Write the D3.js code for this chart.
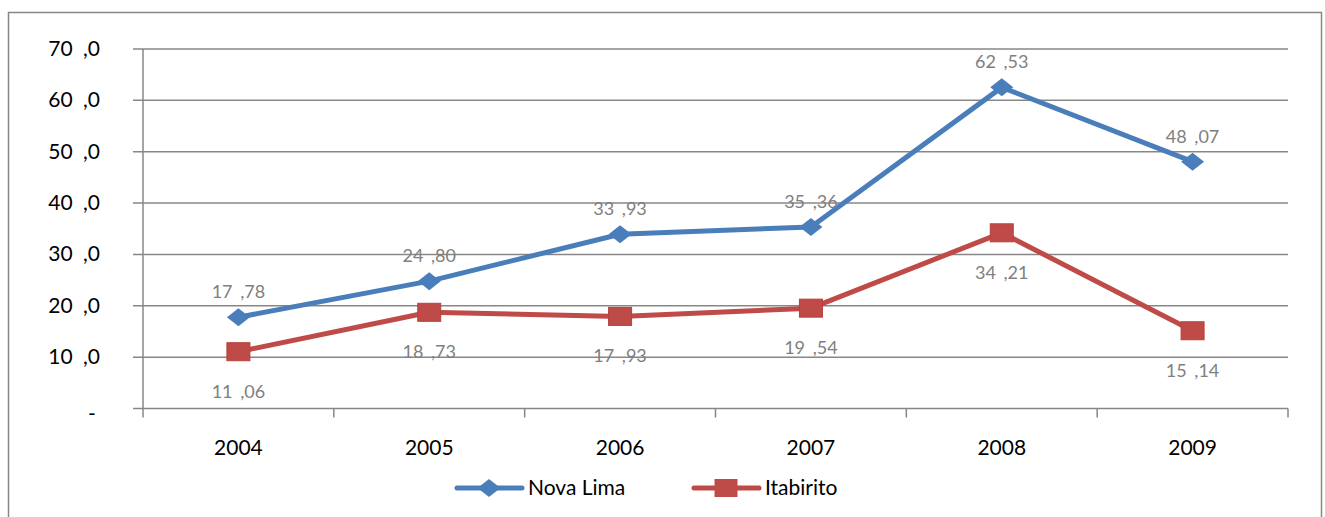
<!DOCTYPE html>
<html lang="en">

<head>
  <meta charset="UTF-8">
  <title>Nova Lima x Itabirito</title>
  <style>
    body { margin: 0; background: #fff; }
    text { font-family: Lato, 'Open Sans', sans-serif; }
  </style>
</head>

<body>
  <svg id="svg" width="1325" height="517"></svg>

  <script src="https://d3js.org/d3.v7.min.js"></script>
  <script>
    // data
    const years = ['2004', '2005', '2006', '2007', '2008', '2009']
    const novaLima = [17.78, 24.80, 33.93, 35.36, 62.53, 48.07]
    const itabirito = [11.06, 18.73, 17.93, 19.54, 34.21, 15.14]
    const yTicks = [0, 10, 20, 30, 40, 50, 60, 70]
    const seriesNames = ['Nova Lima', 'Itabirito']

    const blue = '#4A7EBB'
    const red = '#BE4B48'
    const grid = '#878787'

    const svg = d3.select('#svg')

    // outer frame
    svg.append('rect')
      .attr('x', 8.5).attr('y', 12.5)
      .attr('width', 1313).attr('height', 520)
      .attr('fill', 'none')
      .attr('stroke', grid)
      .attr('stroke-width', 1.5)

    const xScale = d3.scaleBand()
      .domain(years)
      .range([143, 1288])

    const yScale = d3.scaleLinear()
      .domain([0, 70])
      .range([408.5, 49])

    const cx = d => xScale(d) + xScale.bandwidth() / 2

    // horizontal gridlines
    svg.append('g')
      .selectAll('line')
      .data(yTicks)
      .enter()
      .append('line')
      .attr('x1', 133)
      .attr('x2', 1288)
      .attr('y1', d => yScale(d))
      .attr('y2', d => yScale(d))
      .attr('stroke', grid)
      .attr('stroke-width', 1.5)

    // left axis line
    svg.append('line')
      .attr('x1', 143).attr('x2', 143)
      .attr('y1', yScale(70)).attr('y2', yScale(0))
      .attr('stroke', grid)
      .attr('stroke-width', 1.5)

    // category boundary ticks
    const bounds = years.map(d => xScale(d)).concat([xScale.range()[1]])
    svg.append('g')
      .selectAll('line')
      .data(bounds)
      .enter()
      .append('line')
      .attr('x1', d => d).attr('x2', d => d)
      .attr('y1', yScale(0)).attr('y2', yScale(0) + 9)
      .attr('stroke', grid)
      .attr('stroke-width', 1.5)

    // y labels
    svg.append('g')
      .selectAll('text')
      .data(yTicks)
      .enter()
      .append('text')
      .attr('x', d => d === 0 ? 92 : 100)
      .attr('y', d => yScale(d) + (d === 0 ? 12 : 7))
      .attr('text-anchor', d => d === 0 ? 'middle' : 'end')
      .style('font-size', '21px')
      .style('word-spacing', '5px')
      .attr('fill', '#000')
      .text(d => d === 0 ? '-' : d + ' ,0')

    // x labels
    svg.append('g')
      .selectAll('text')
      .data(years)
      .enter()
      .append('text')
      .attr('x', d => cx(d))
      .attr('y', 455)
      .attr('text-anchor', 'middle')
      .style('font-size', '21px')
      .attr('fill', '#000')
      .text(d => d)

    const line = d3.line()
      .x((d, i) => cx(years[i]))
      .y(d => yScale(d))

    const diamond = (x, y) => `M${x - 11.5},${y} L${x},${y - 9} L${x + 11.5},${y} L${x},${y + 9} Z`

    const fmt = v => d3.format('.2f')(v).replace('.', ' ,')

    // Nova Lima
    svg.append('path')
      .attr('d', line(novaLima))
      .attr('fill', 'none')
      .attr('stroke', blue)
      .attr('stroke-width', 5)
      .attr('stroke-linejoin', 'round')

    svg.append('g')
      .selectAll('path')
      .data(novaLima)
      .enter()
      .append('path')
      .attr('d', (d, i) => diamond(cx(years[i]), yScale(d)))
      .attr('fill', blue)

    svg.append('g')
      .selectAll('text')
      .data(novaLima)
      .enter()
      .append('text')
      .attr('x', (d, i) => cx(years[i]))
      .attr('y', d => yScale(d) - 19)
      .attr('text-anchor', 'middle')
      .style('font-size', '18px')
      .style('word-spacing', '3px')
      .attr('fill', '#808080')
      .text(d => fmt(d))

    // Itabirito
    svg.append('path')
      .attr('d', line(itabirito))
      .attr('fill', 'none')
      .attr('stroke', red)
      .attr('stroke-width', 5)
      .attr('stroke-linejoin', 'round')

    svg.append('g')
      .selectAll('rect')
      .data(itabirito)
      .enter()
      .append('rect')
      .attr('x', (d, i) => cx(years[i]) - 11.5)
      .attr('y', d => yScale(d) - 9)
      .attr('width', 23)
      .attr('height', 18)
      .attr('fill', red)
      .attr('stroke', '#B8403D')
      .attr('stroke-width', 1)

    svg.append('g')
      .selectAll('text')
      .data(itabirito)
      .enter()
      .append('text')
      .attr('x', (d, i) => cx(years[i]))
      .attr('y', d => yScale(d) + 46)
      .attr('text-anchor', 'middle')
      .style('font-size', '18px')
      .style('word-spacing', '3px')
      .attr('fill', '#808080')
      .text(d => fmt(d))

    // legend
    const legend = svg.append('g')
    const legendItems = [
      { name: seriesNames[0], color: blue, x: 457, shape: 'diamond' },
      { name: seriesNames[1], color: red, x: 694, shape: 'square' }
    ]
    legendItems.forEach(item => {
      const ly = 488
      legend.append('line')
        .attr('x1', item.x).attr('x2', item.x + 65)
        .attr('y1', ly).attr('y2', ly)
        .attr('stroke', item.color)
        .attr('stroke-width', 5)
        .attr('stroke-linecap', 'round')
      const mx = item.x + 32
      if (item.shape === 'diamond') {
        legend.append('path')
          .attr('d', diamond(mx, ly))
          .attr('fill', item.color)
      } else {
        legend.append('rect')
          .attr('x', mx - 11.5).attr('y', ly - 9)
          .attr('width', 23).attr('height', 18)
          .attr('fill', item.color)
      }
      legend.append('text')
        .attr('x', item.x + 71)
        .attr('y', ly + 7)
        .style('font-size', '21px')
        .attr('fill', '#000')
        .text(item.name)
    })
  </script>

</body>

</html>
